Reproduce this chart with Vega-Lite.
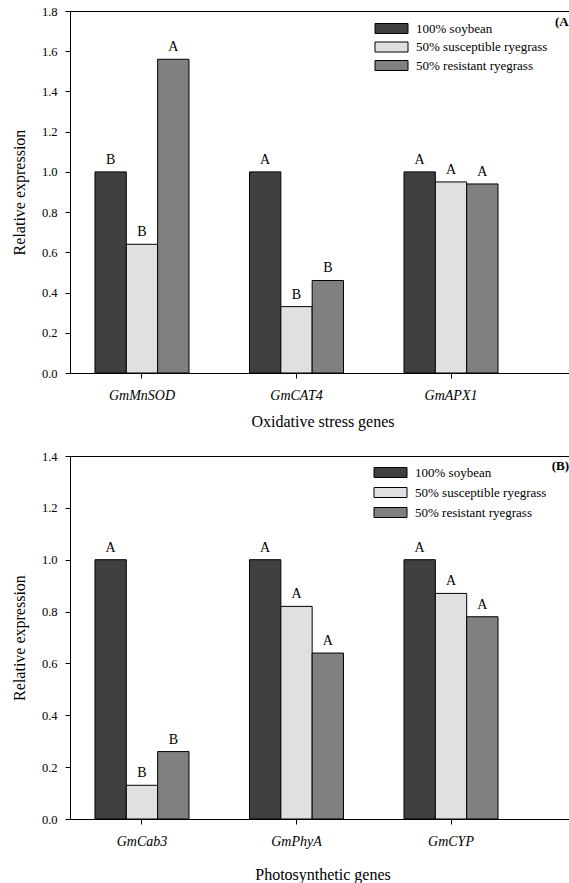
{
  "$schema": "https://vega.github.io/schema/vega-lite/v6.json",
  "padding": {"left": 10, "top": 4, "right": 0, "bottom": 0},
  "autosize": {"type": "pad"},
  "background": "white",
  "spacing": 19,
  "resolve": {"legend": {"color": "independent"}, "scale": {"y": "independent"}},
  "config": {
    "font": "Liberation Serif",
    "view": {"stroke": "black", "strokeWidth": 1},
    "text": {"font": "Liberation Serif"},
    "title": {"font": "Liberation Serif"},
    "axis": {
      "labelFont": "Liberation Serif",
      "titleFont": "Liberation Serif",
      "domainColor": "black",
      "tickColor": "black",
      "labelColor": "black",
      "titleColor": "black",
      "grid": false,
      "tickSize": 5,
      "labelFontSize": 12.5,
      "titleFontSize": 16,
      "titleFontWeight": "normal"
    },
    "legend": {"labelFont": "Liberation Serif", "labelFontSize": 13, "labelColor": "black"}
  },
  "vconcat": [
    {
      "width": 505,
      "height": 362,
      "title": {"text": "(A)", "anchor": "end", "fontSize": 13, "fontWeight": "bold", "color": "black", "dy": 28, "dx": -2},
      "data": {
        "values": [
          {"gene": "GmMnSOD", "treatment": "100% soybean", "value": 1.0, "letter": "B"},
          {"gene": "GmMnSOD", "treatment": "50% susceptible ryegrass", "value": 0.64, "letter": "B"},
          {"gene": "GmMnSOD", "treatment": "50% resistant ryegrass", "value": 1.56, "letter": "A"},
          {"gene": "GmCAT4", "treatment": "100% soybean", "value": 1.0, "letter": "A"},
          {"gene": "GmCAT4", "treatment": "50% susceptible ryegrass", "value": 0.33, "letter": "B"},
          {"gene": "GmCAT4", "treatment": "50% resistant ryegrass", "value": 0.46, "letter": "B"},
          {"gene": "GmAPX1", "treatment": "100% soybean", "value": 1.0, "letter": "A"},
          {"gene": "GmAPX1", "treatment": "50% susceptible ryegrass", "value": 0.95, "letter": "A"},
          {"gene": "GmAPX1", "treatment": "50% resistant ryegrass", "value": 0.94, "letter": "A"}
        ]
      },
      "encoding": {
        "x": {
          "field": "gene", "type": "nominal", "sort": null,
          "scale": {"paddingInner": 0.3916, "paddingOuter": 0.33, "align": 0.245},
          "title": "Oxidative stress genes",
          "axis": {"labelAngle": 0, "labelFontStyle": "italic", "labelFontSize": 14, "labelPadding": 10, "titlePadding": 11}
        },
        "xOffset": {"field": "treatment", "type": "nominal", "sort": null, "scale": {"paddingInner": 0, "paddingOuter": 0}},
        "y": {
          "field": "value", "type": "quantitative",
          "scale": {"domain": [0, 1.8], "nice": false},
          "title": "Relative expression",
          "axis": {"values": [0, 0.2, 0.4, 0.6, 0.8, 1.0, 1.2, 1.4, 1.6, 1.8], "format": ".1f", "labelPadding": 8, "titlePadding": 14}
        }
      },
      "layer": [
        {
          "mark": {"type": "bar", "stroke": "black", "strokeWidth": 1},
          "encoding": {
            "color": {
              "field": "treatment", "type": "nominal",
              "scale": {"domain": ["100% soybean", "50% susceptible ryegrass", "50% resistant ryegrass"], "range": ["#404040", "#e0e0e0", "#808080"]},
              "legend": {"title": null, "orient": "none", "legendX": 315, "legendY": 11, "symbolType": "M-3.3,-1H3.3V1H-3.3Z", "symbolSize": 100, "symbolStrokeColor": "black", "symbolStrokeWidth": 1, "symbolOpacity": 1, "labelOffset": 18, "rowPadding": 3.5}
            }
          }
        },
        {
          "mark": {"type": "text", "baseline": "bottom", "dy": -5, "fontSize": 14, "color": "black"},
          "encoding": {"text": {"field": "letter"}}
        }
      ]
    },
    {
      "width": 505,
      "height": 363,
      "title": {"text": "(B)", "anchor": "end", "fontSize": 13, "fontWeight": "bold", "color": "black", "dy": 27, "dx": -6},
      "data": {
        "values": [
          {"gene": "GmCab3", "treatment": "100% soybean", "value": 1.0, "letter": "A"},
          {"gene": "GmCab3", "treatment": "50% susceptible ryegrass", "value": 0.13, "letter": "B"},
          {"gene": "GmCab3", "treatment": "50% resistant ryegrass", "value": 0.26, "letter": "B"},
          {"gene": "GmPhyA", "treatment": "100% soybean", "value": 1.0, "letter": "A"},
          {"gene": "GmPhyA", "treatment": "50% susceptible ryegrass", "value": 0.82, "letter": "A"},
          {"gene": "GmPhyA", "treatment": "50% resistant ryegrass", "value": 0.64, "letter": "A"},
          {"gene": "GmCYP", "treatment": "100% soybean", "value": 1.0, "letter": "A"},
          {"gene": "GmCYP", "treatment": "50% susceptible ryegrass", "value": 0.87, "letter": "A"},
          {"gene": "GmCYP", "treatment": "50% resistant ryegrass", "value": 0.78, "letter": "A"}
        ]
      },
      "encoding": {
        "x": {
          "field": "gene", "type": "nominal", "sort": null,
          "scale": {"paddingInner": 0.3916, "paddingOuter": 0.33, "align": 0.245},
          "title": "Photosynthetic genes",
          "axis": {"labelAngle": 0, "labelFontStyle": "italic", "labelFontSize": 14, "labelPadding": 10, "titlePadding": 18}
        },
        "xOffset": {"field": "treatment", "type": "nominal", "sort": null, "scale": {"paddingInner": 0, "paddingOuter": 0}},
        "y": {
          "field": "value", "type": "quantitative",
          "scale": {"domain": [0, 1.4], "nice": false},
          "title": "Relative expression",
          "axis": {"values": [0, 0.2, 0.4, 0.6, 0.8, 1.0, 1.2, 1.4], "format": ".1f", "labelPadding": 8, "titlePadding": 14}
        }
      },
      "layer": [
        {
          "mark": {"type": "bar", "stroke": "black", "strokeWidth": 1},
          "encoding": {
            "color": {
              "field": "treatment", "type": "nominal",
              "scale": {"domain": ["100% soybean", "50% susceptible ryegrass", "50% resistant ryegrass"], "range": ["#404040", "#e0e0e0", "#808080"]},
              "legend": {"title": null, "orient": "none", "legendX": 314, "legendY": 10, "symbolType": "M-3.3,-1H3.3V1H-3.3Z", "symbolSize": 100, "symbolStrokeColor": "black", "symbolStrokeWidth": 1, "symbolOpacity": 1, "labelOffset": 18, "rowPadding": 5}
            }
          }
        },
        {
          "mark": {"type": "text", "baseline": "bottom", "dy": -5, "fontSize": 14, "color": "black"},
          "encoding": {"text": {"field": "letter"}}
        }
      ]
    }
  ]
}
